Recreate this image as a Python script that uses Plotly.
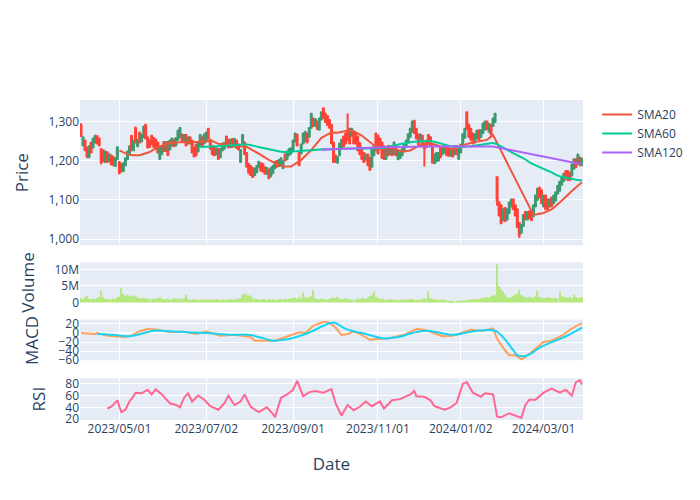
import pandas as pd
import plotly.graph_objects as go
from plotly.subplots import make_subplots

# ---------------- trading calendar ----------------
holidays = ["2023-04-07", "2023-05-29", "2023-06-19", "2023-07-04", "2023-09-04",
            "2023-11-23", "2023-12-25", "2024-01-01", "2024-01-15", "2024-02-19"]
bdays = pd.bdate_range("2023-04-03", "2024-03-28")
dates = [d for d in bdays if d.strftime("%Y-%m-%d") not in holidays]
all_days = pd.date_range(dates[0], dates[-1])
date_set = set(dates)
missing = [d.strftime("%Y-%m-%d") for d in all_days if d not in date_set]

# ---------------- OHLC ----------------
opens = [1290,1240,1250,1232,1210,1245,1235,1248,1262,1255,
         1228,1225,1198,1220,1200,1212,1208,1188,1205,1195,
         1190,1175,1190,1205,1218,1262,1228,1282,1238,1270,
         1250,1262,1290,1258,1250,1262,1256,1252,1245,1206,
         1218,1246,1226,1246,1230,1240,1252,1240,1255,1262,
         1265,1250,1264,1245,1258,1250,1232,1240,1225,1240,
         1258,1245,1250,1280,1252,1236,1232,1218,1228,1210,
         1228,1232,1260,1252,1236,1254,1238,1250,1240,1198,
         1244,1245,1218,1190,1185,1180,1165,1172,1185,1192,
         1190,1182,1168,1176,1162,1170,1182,1198,1188,1190,
         1182,1214,1205,1215,1220,1228,1250,1265,1218,1220,
         1245,1250,1268,1262,1285,1306,1290,1298,1280,1306,
         1332,1318,1312,1302,1290,1245,1212,1196,1215,1235,
         1260,1268,1272,1280,1264,1272,1268,1260,1243,1230,
         1218,1204,1214,1206,1186,1215,1268,1262,1255,1245,
         1235,1206,1236,1218,1232,1218,1228,1205,1208,1215,
         1228,1236,1248,1262,1275,1300,1280,1266,1250,1262,
         1242,1250,1264,1258,1240,1195,1200,1202,1232,1218,
         1222,1236,1230,1214,1228,1218,1236,1206,1222,1243,
         1260,1322,1290,1280,1268,1248,1258,1276,1262,1272,
         1280,1298,1275,1290,1290,1300,1158,1093,1085,1050,
         1078,1052,1068,1085,1100,1085,1075,1040,1018,1035,
         1068,1052,1070,1068,1060,1085,1102,1130,1123,1085,
         1110,1100,1085,1105,1093,1100,1118,1125,1140,1150,
         1172,1172,1168,1164,1181,1202,1193,1206,1190]
closes = [1265,1258,1228,1212,1235,1222,1255,1262,1245,1240,
          1196,1200,1222,1198,1215,1192,1190,1205,1233,1170,
          1175,1192,1205,1222,1235,1228,1250,1248,1252,1248,
          1265,1285,1258,1235,1236,1244,1236,1232,1222,1235,
          1236,1226,1246,1216,1250,1255,1238,1256,1275,1282,
          1250,1264,1240,1258,1245,1222,1212,1215,1245,1264,
          1240,1265,1270,1258,1232,1218,1215,1230,1206,1228,
          1242,1244,1240,1235,1252,1236,1254,1234,1230,1226,
          1264,1218,1186,1170,1165,1160,1178,1185,1196,1176,
          1174,1168,1180,1157,1180,1185,1196,1186,1200,1205,
          1197,1202,1222,1228,1230,1250,1268,1240,1190,1240,
          1268,1272,1248,1282,1318,1290,1304,1282,1306,1322,
          1310,1300,1292,1285,1245,1198,1198,1208,1242,1252,
          1238,1245,1255,1245,1280,1245,1245,1228,1218,1206,
          1198,1214,1190,1178,1230,1235,1228,1220,1232,1208,
          1206,1230,1215,1236,1215,1245,1215,1222,1218,1228,
          1240,1250,1266,1280,1298,1272,1258,1244,1265,1240,
          1232,1236,1248,1240,1196,1214,1218,1218,1210,1228,
          1236,1215,1214,1228,1212,1236,1218,1230,1240,1266,
          1280,1282,1262,1255,1245,1266,1275,1256,1276,1293,
          1298,1282,1292,1268,1306,1318,1100,1062,1042,1075,
          1048,1075,1092,1100,1078,1062,1032,1012,1035,1060,
          1052,1068,1055,1050,1085,1110,1127,1108,1093,1110,
          1078,1078,1100,1085,1110,1118,1135,1145,1156,1165,
          1156,1152,1152,1189,1202,1185,1214,1190,1204]
highs = [1295,1262,1254,1236,1239,1248,1259,1266,1265,1259,
         1232,1229,1226,1224,1219,1216,1212,1209,1237,1199,
         1194,1196,1209,1226,1239,1266,1254,1287,1256,1274,
         1269,1289,1294,1262,1254,1266,1260,1256,1249,1239,
         1240,1250,1250,1250,1254,1259,1256,1260,1279,1286,
         1269,1268,1268,1262,1262,1254,1236,1244,1249,1268,
         1262,1269,1274,1284,1256,1240,1236,1234,1232,1232,
         1246,1248,1264,1256,1256,1258,1258,1254,1244,1230,
         1268,1249,1222,1194,1189,1184,1182,1189,1200,1196,
         1194,1186,1184,1180,1184,1189,1200,1202,1204,1209,
         1201,1218,1226,1232,1234,1254,1272,1269,1222,1244,
         1272,1276,1272,1286,1322,1310,1308,1302,1310,1326,
         1336,1322,1316,1306,1294,1249,1216,1212,1246,1256,
         1264,1272,1320,1284,1284,1276,1272,1264,1247,1234,
         1222,1218,1218,1210,1234,1239,1272,1266,1259,1249,
         1239,1234,1240,1240,1236,1249,1232,1226,1222,1232,
         1244,1254,1270,1284,1302,1304,1284,1270,1269,1266,
         1246,1254,1268,1262,1244,1218,1222,1222,1236,1232,
         1240,1240,1234,1232,1232,1240,1240,1234,1244,1270,
         1284,1326,1294,1284,1272,1270,1279,1280,1280,1297,
         1302,1302,1296,1294,1310,1322,1160,1097,1089,1079,
         1082,1079,1096,1104,1104,1089,1079,1044,1039,1064,
         1072,1072,1074,1072,1089,1114,1131,1134,1127,1114,
         1114,1104,1104,1109,1114,1122,1139,1149,1160,1169,
         1176,1176,1172,1193,1206,1206,1218,1210,1208]
lows = [1260,1236,1224,1206,1206,1218,1231,1244,1241,1236,
        1190,1196,1194,1194,1196,1188,1186,1184,1201,1165,
        1170,1171,1186,1201,1214,1224,1224,1244,1234,1244,
        1246,1258,1254,1231,1232,1240,1232,1228,1218,1202,
        1214,1222,1222,1212,1226,1236,1234,1236,1251,1258,
        1246,1246,1236,1241,1241,1218,1208,1211,1221,1236,
        1236,1241,1246,1254,1228,1214,1211,1214,1202,1206,
        1224,1228,1236,1231,1232,1232,1234,1230,1226,1194,
        1240,1214,1182,1166,1161,1156,1161,1168,1181,1172,
        1170,1164,1164,1153,1158,1166,1178,1182,1184,1186,
        1178,1198,1201,1211,1216,1224,1246,1236,1186,1216,
        1241,1246,1244,1258,1281,1286,1286,1278,1276,1302,
        1306,1296,1288,1281,1241,1194,1194,1192,1211,1231,
        1234,1241,1251,1241,1260,1241,1241,1224,1214,1202,
        1194,1200,1186,1174,1182,1211,1224,1216,1228,1204,
        1202,1202,1211,1214,1211,1214,1211,1201,1204,1211,
        1224,1232,1244,1258,1271,1268,1254,1240,1246,1236,
        1185,1232,1244,1236,1192,1191,1196,1198,1206,1214,
        1218,1211,1210,1210,1208,1214,1214,1202,1218,1239,
        1256,1278,1258,1251,1241,1244,1254,1252,1258,1268,
        1276,1278,1271,1264,1286,1296,1085,1058,1038,1046,
        1044,1048,1064,1081,1074,1058,1028,1003,1014,1031,
        1048,1048,1051,1046,1056,1081,1098,1104,1089,1081,
        1074,1074,1081,1081,1089,1096,1114,1121,1136,1146,
        1152,1148,1148,1160,1177,1181,1189,1186,1186]

# volume, millions of shares
volume_m = [1.4,1.1,1.7,2.0,1.2,1.0,1.3,1.1,1.4,1.6,
            3.6,1.7,1.2,1.1,0.9,1.0,1.3,1.1,1.6,1.8,
            4.4,2.6,2.1,2.3,2.0,2.2,1.8,2.1,1.6,1.3,
            1.2,1.4,1.3,1.1,1.2,1.0,1.3,1.1,1.4,1.6,
            1.2,1.0,1.1,1.3,0.9,1.0,1.4,1.2,1.1,1.3,
            1.0,1.5,2.4,1.0,0.8,0.9,1.1,1.0,0.8,0.9,
            1.0,0.8,1.1,0.9,1.0,0.8,0.9,1.0,1.1,0.8,
            0.9,1.0,0.8,0.9,1.1,1.0,0.8,1.2,1.1,1.4,
            2.4,2.7,2.5,2.0,2.2,1.6,1.2,1.1,1.0,0.9,
            1.1,1.0,0.8,1.2,0.9,1.0,0.8,0.9,1.0,1.1,
            0.9,1.2,1.0,1.1,1.3,1.4,1.6,1.2,1.8,1.3,
            3.0,1.8,1.4,1.7,2.0,3.7,1.3,1.1,1.0,1.2,
            1.1,1.0,0.9,1.2,1.3,1.6,1.4,1.8,1.2,1.1,
            1.0,1.3,1.1,1.0,0.9,0.8,1.0,1.2,1.1,1.3,
            1.4,1.0,1.6,2.0,2.3,3.3,1.8,1.3,1.1,1.2,
            1.0,0.8,0.9,1.1,1.0,0.8,0.9,0.7,0.8,1.0,
            0.9,0.8,1.0,1.1,1.2,0.9,0.8,1.0,0.9,1.1,
            1.3,1.0,3.4,1.4,1.2,1.0,1.1,0.9,0.8,1.0,
            0.9,0.7,0.6,0.5,0.5,0.4,0.5,0.6,0.7,0.6,
            0.6,0.8,0.9,1.0,1.1,0.9,1.2,1.1,1.3,1.4,
            1.5,1.7,1.4,1.9,2.1,2.3,11.5,5.0,4.2,3.3,
            2.5,1.7,1.5,1.6,2.1,2.4,2.7,3.8,2.3,1.9,
            1.8,1.5,1.7,1.6,1.4,1.9,3.5,1.7,1.5,1.3,
            1.4,1.6,1.5,1.4,1.3,1.5,1.4,3.3,1.9,1.7,
            1.5,1.6,1.8,1.3,2.4,1.7,1.4,1.5,1.7]

# ---------------- moving averages (read at trading-day indices) ----------------
sma20_idx = [19,23,26,29,34,38,44,49,55,62,65,68,75,82,88,93,98,100,104,109,114,119,124,127,
             132,135,139,144,147,150,154,159,163,169,174,179,184,189,194,201,204,224,229,233,238,243,248]
sma20_val = [1226,1216,1214,1214,1222,1235,1245,1247,1247,1250,1250,1243,1239,1235,1218,1202,1189,1185,
             1185,1202,1227,1258,1272,1271,1277,1275,1264,1243,1231,1235,1233,1223,1226,1243,1243,1235,
             1228,1239,1247,1253,1265,1062,1067,1076,1098,1123,1145]
sma60_idx = [59,68,75,82,88,95,100,109,115,120,132,150,159,165,171,176,183,189,196,201,204,
             207,210,213,216,220,223,227,230,233,236,240,243,246,248]
sma60_val = [1235,1237,1239,1241,1235,1227,1222,1225,1227,1229,1231,1233,1243,1248,1250,1247,1237,1235,
             1239,1243,1245,1239,1231,1222,1214,1203,1193,1184,1177,1170,1162,1157,1154,1151,1150]
sma120_idx = [119,135,150,171,190,204,248]
sma120_val = [1228,1231,1234,1236,1236,1236,1191]

# ---------------- MACD ----------------
macd_idx = [0,4,7,8,13,21,25,29,33,38,44,50,57,62,69,76,84,86,92,96,103,108,111,115,120,123,126,
            129,132,135,138,143,147,152,160,166,170,175,179,184,189,193,199,204,206,210,212,215,218,
            220,224,229,233,238,243,247,248]
macd_val = [0,-1,-2,0,-6,-9,-6,4,9,7,1.5,3.6,-2,3,-6,-4,-9,-17,-17,-17,-6,1.5,0,16,25,23,12,
            -4,-2,3,-2,-15,-13,-12,-4,9,7,0,-7,-6,1.5,7,5,10,-13,-39,-49,-49,-58,
            -53,-39,-20,-17,-6,10,20,22]
signal_idx = [8,12,16,20,24,28,32,36,40,47,55,62,68,74,83,89,95,100,104,110,115,120,125,128,131,
              135,139,145,150,157,164,171,178,184,190,196,205,208,211,214,216,220,223,226,231,236,242,248]
signal_val = [-2,-3,-4,-6,-7,-4,1,5,5,3,1,0,-2,-4,-4,-10,-17,-15,-12,-4,5,16,23,17,9,
              4,0,-7,-12,-9,0,5,0,-4,0,5,5,-5,-20,-38,-49,-51,-45,-35,-24,-15,-3,12]

# ---------------- RSI ----------------
rsi_idx = [13,15,17,18,19,20,22,24,26,27,30,33,35,37,40,44,47,49,51,53,55,58,61,64,68,71,73,76,79,
           81,84,88,92,95,96,99,102,105,107,110,113,116,120,124,126,129,132,135,138,141,144,148,150,
           154,158,163,165,166,170,173,175,180,183,186,189,191,194,198,200,204,206,208,212,215,218,
           220,222,225,229,233,237,240,243,245,247,248]
rsi_val = [38,41,48,52,41,32,36,50,59,65,64,70,62,71,62,47,44,40,56,64,50,60,53,42,36,47,60,44,50,
           62,41,32,40,29,23,56,62,70,85,59,66,68,65,71,47,26,44,35,41,50,42,50,38,
           52,54,62,68,59,58,52,42,36,40,48,80,83,65,58,64,62,24,23,30,26,22,
           44,53,53,65,72,65,70,60,83,86,79]

# ---------------- figure ----------------
fig = make_subplots(rows=4, cols=1, shared_xaxes=True, vertical_spacing=0.053,
                    row_heights=[0.54, 0.15, 0.155, 0.155])

fig.add_trace(go.Candlestick(x=dates, open=opens, high=highs, low=lows, close=closes,
                             name="Price", showlegend=False), row=1, col=1)
fig.add_trace(go.Scatter(x=[dates[i] for i in sma20_idx], y=sma20_val, mode="lines",
                         name="SMA20", line=dict(color="#EF553B", width=2)), row=1, col=1)
fig.add_trace(go.Scatter(x=[dates[i] for i in sma60_idx], y=sma60_val, mode="lines",
                         name="SMA60", line=dict(color="#00CC96", width=2, shape="spline")), row=1, col=1)
fig.add_trace(go.Scatter(x=[dates[i] for i in sma120_idx], y=sma120_val, mode="lines",
                         name="SMA120", line=dict(color="#AB63FA", width=2)), row=1, col=1)

fig.add_trace(go.Bar(x=dates, y=[v * 1e6 for v in volume_m], name="Volume",
                     marker=dict(color="#B6E880", line=dict(width=0)), showlegend=False), row=2, col=1)

fig.add_trace(go.Scatter(x=[dates[i] for i in macd_idx], y=macd_val, mode="lines", name="MACD",
                         line=dict(color="#FFA15A", width=2), showlegend=False), row=3, col=1)
fig.add_trace(go.Scatter(x=[dates[i] for i in signal_idx], y=signal_val, mode="lines", name="Signal",
                         line=dict(color="#19D3F3", width=2, shape="spline"), showlegend=False), row=3, col=1)

fig.add_trace(go.Scatter(x=[dates[i] for i in rsi_idx], y=rsi_val, mode="lines", name="RSI",
                         line=dict(color="#FF6692", width=2), showlegend=False), row=4, col=1)

for r in range(1, 5):
    fig.update_xaxes(rangebreaks=[dict(values=missing)], domain=[0, 0.992], row=r, col=1)
fig.update_xaxes(rangeslider_visible=False)
fig.update_xaxes(tickformat="%Y/%m/%d", title_text="Date", title_font_size=17,
                 title_standoff=22, row=4, col=1)

fig.update_yaxes(title_text="Price", tickformat=",", row=1, col=1)
fig.update_yaxes(title_text="Volume", row=2, col=1)
fig.update_yaxes(title_text="MACD", row=3, col=1)
fig.update_yaxes(title_text="RSI", row=4, col=1)
fig.update_yaxes(title_font_size=17)

fig.update_layout(width=700, height=500, bargap=0.3)

fig.write_html("out.html")
